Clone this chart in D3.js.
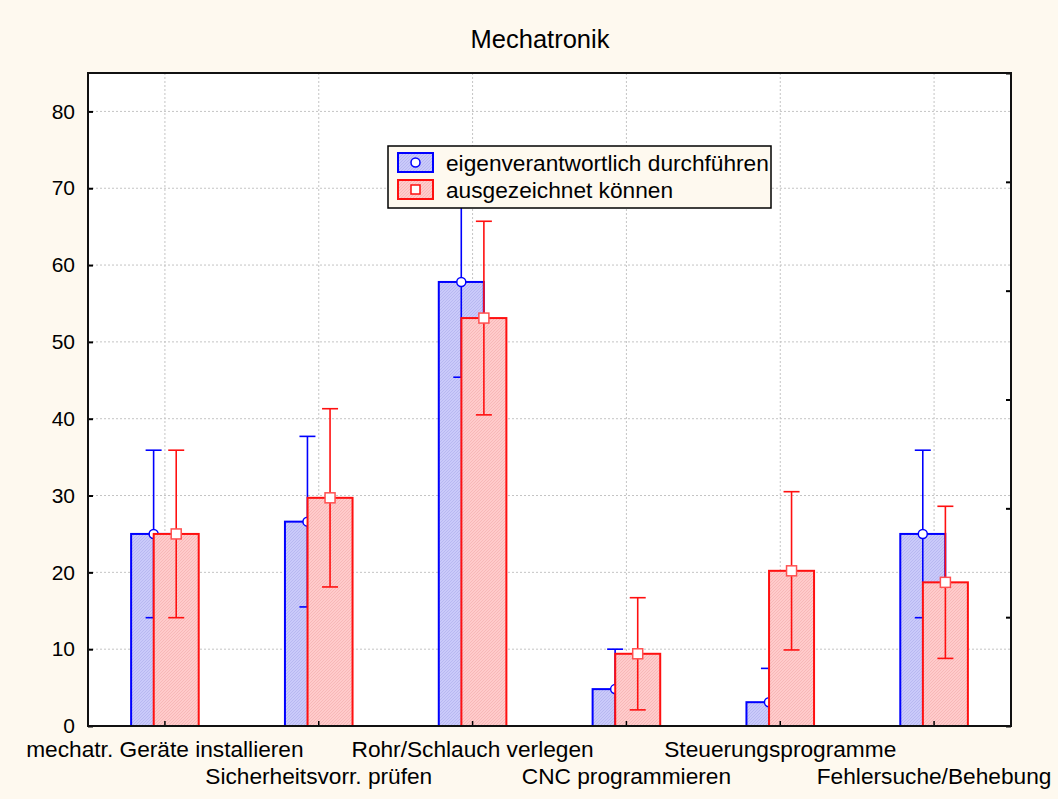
<!DOCTYPE html>
<html>
<head>
<meta charset="utf-8">
<script src="https://cdn.jsdelivr.net/npm/d3@7"></script>
<style>
  body { margin: 0; background: #fef9ef; }
  svg { display: block; font-family: "Liberation Sans", Arial, sans-serif; }
</style>
</head>
<body>
<div class="visHolder"></div>
<script>
const categories = [
  "mechatr. Geräte installieren",
  "Sicherheitsvorr. prüfen",
  "Rohr/Schlauch verlegen",
  "CNC programmieren",
  "Steuerungsprogramme",
  "Fehlersuche/Behebung",
];

const seriesNames = ["eigenverantwortlich durchführen", "ausgezeichnet können"];

// mittelwerte und fehler (symmetrisch)
const meanEigen = [25.0, 26.6, 57.8, 4.8, 3.1, 25.0];
const errEigen = [10.9, 11.1, 12.4, 5.2, 4.4, 10.9];
const meanAus = [25.0, 29.7, 53.1, 9.4, 20.2, 18.7];
const errAus = [10.9, 11.6, 12.6, 7.3, 10.3, 9.9];

const yTicks = [0, 10, 20, 30, 40, 50, 60, 70, 80];

const width = 1058;
const height = 799;
const margin = { top: 73, right: 47, bottom: 73, left: 88 };

const x = d3
  .scaleBand()
  .domain(categories)
  .range([margin.left, width - margin.right]);

const y = d3
  .scaleLinear()
  .domain([0, 85])
  .range([height - margin.bottom, margin.top]);

// rechte achse hat eigene teilung ohne beschriftung
const yRight = d3
  .scaleLinear()
  .domain([0, 6])
  .range([height - margin.bottom, margin.top]);

const barW = 45;
const shift = 11.3;

const series = [
  { name: seriesNames[0], mean: meanEigen, err: errEigen, dx: -shift, stroke: "#0000ff", base: "#cacafa", line: "#b0b0ee", marker: "circle" },
  { name: seriesNames[1], mean: meanAus, err: errAus, dx: shift, stroke: "#ff1010", base: "#ffcbcb", line: "#f3b0b0", marker: "square" },
];

const svg = d3
  .select(".visHolder")
  .append("svg")
  .attr("width", width)
  .attr("height", height);

const defs = svg.append("defs");
series.forEach((s, i) => {
  const p = defs
    .append("pattern")
    .attr("id", "hatch" + i)
    .attr("patternUnits", "userSpaceOnUse")
    .attr("width", 3)
    .attr("height", 3);
  p.append("rect").attr("width", 3).attr("height", 3).attr("fill", s.base);
  p.append("path").attr("d", "M0,3 L3,0").attr("stroke", s.line).attr("stroke-width", 0.7);
});

defs
  .append("clipPath")
  .attr("id", "plotclip")
  .append("rect")
  .attr("x", margin.left)
  .attr("y", margin.top)
  .attr("width", width - margin.left - margin.right)
  .attr("height", height - margin.top - margin.bottom + 1);

const x0 = margin.left;
const x1 = width - margin.right;
const y0 = height - margin.bottom;
const y1 = margin.top;

// plotfläche
svg
  .append("rect")
  .attr("x", x0)
  .attr("y", y1)
  .attr("width", x1 - x0)
  .attr("height", y0 - y1)
  .attr("fill", "#ffffff");

// gitter
svg
  .append("g")
  .selectAll("line")
  .data(yTicks.filter((t) => t > 0))
  .enter()
  .append("line")
  .attr("x1", x0)
  .attr("x2", x1)
  .attr("y1", (d) => y(d))
  .attr("y2", (d) => y(d))
  .attr("stroke", "#c4c4c4")
  .attr("stroke-dasharray", "2,2");

svg
  .append("g")
  .selectAll("line")
  .data(categories)
  .enter()
  .append("line")
  .attr("x1", (d) => x(d) + x.bandwidth() / 2)
  .attr("x2", (d) => x(d) + x.bandwidth() / 2)
  .attr("y1", y1)
  .attr("y2", y0)
  .attr("stroke", "#c4c4c4")
  .attr("stroke-dasharray", "2,2");

// balken, fehlerbalken, marker je serie
const plot = svg.append("g").attr("clip-path", "url(#plotclip)");

series.forEach((s, si) => {
  const g = plot.append("g");
  const cx = (i) => x(categories[i]) + x.bandwidth() / 2 + s.dx;
  const idx = d3.range(categories.length);

  g.selectAll("rect")
    .data(idx)
    .enter()
    .append("rect")
    .attr("x", (i) => cx(i) - barW / 2)
    .attr("y", (i) => y(s.mean[i]))
    .attr("width", barW)
    .attr("height", (i) => y(0) - y(s.mean[i]))
    .attr("fill", `url(#hatch${si})`)
    .attr("stroke", s.stroke)
    .attr("stroke-width", 2);

  g.selectAll(".err")
    .data(idx)
    .enter()
    .append("line")
    .attr("class", "err")
    .attr("x1", cx)
    .attr("x2", cx)
    .attr("y1", (i) => y(s.mean[i] + s.err[i]))
    .attr("y2", (i) => y(s.mean[i] - s.err[i]))
    .attr("stroke", s.stroke)
    .attr("stroke-width", 1.6);

  [1, -1].forEach((sign) => {
    g.selectAll(".cap" + sign)
      .data(idx)
      .enter()
      .append("line")
      .attr("x1", (i) => cx(i) - 8)
      .attr("x2", (i) => cx(i) + 8)
      .attr("y1", (i) => y(s.mean[i] + sign * s.err[i]))
      .attr("y2", (i) => y(s.mean[i] + sign * s.err[i]))
      .attr("stroke", s.stroke)
      .attr("stroke-width", 1.6);
  });

  if (s.marker === "circle") {
    g.selectAll("circle")
      .data(idx)
      .enter()
      .append("circle")
      .attr("cx", cx)
      .attr("cy", (i) => y(s.mean[i]))
      .attr("r", 4.5)
      .attr("fill", "#ffffff")
      .attr("stroke", s.stroke)
      .attr("stroke-width", 1.5);
  } else {
    g.selectAll(".mk")
      .data(idx)
      .enter()
      .append("rect")
      .attr("class", "mk")
      .attr("x", (i) => cx(i) - 5)
      .attr("y", (i) => y(s.mean[i]) - 5)
      .attr("width", 10)
      .attr("height", 10)
      .attr("fill", "#ffffff")
      .attr("stroke", "#ff5050")
      .attr("stroke-width", 1.5);
  }
});

// achsen (ticks nach innen)
const yAxis = d3.axisLeft(y).tickValues(yTicks).tickSize(-5).tickPadding(13);
svg
  .append("g")
  .attr("id", "y-axis")
  .attr("transform", `translate(${x0}, 0)`)
  .call(yAxis)
  .call((g) => g.select(".domain").remove())
  .call((g) => g.selectAll("text").attr("font-size", 21).attr("font-family", "Liberation Sans, Arial").attr("fill", "#000"))
  .call((g) => g.selectAll("line").attr("stroke-width", 2));

svg
  .append("g")
  .attr("transform", `translate(${x1}, 0)`)
  .call(d3.axisRight(yRight).ticks(6).tickSize(-5).tickFormat(""))
  .call((g) => g.select(".domain").remove())
  .call((g) => g.selectAll("line").attr("stroke-width", 2));

svg
  .append("g")
  .attr("id", "x-axis")
  .attr("transform", `translate(0, ${y0})`)
  .call(d3.axisBottom(x).tickSize(-5).tickFormat(""))
  .call((g) => g.select(".domain").remove())
  .call((g) => g.selectAll("line").attr("stroke-width", 1.5));

// kategorie-beschriftung, versetzt in zwei zeilen
svg
  .append("g")
  .selectAll("text")
  .data(categories)
  .enter()
  .append("text")
  .attr("x", (d) => x(d) + x.bandwidth() / 2)
  .attr("y", (d, i) => (i % 2 === 0 ? 757 : 784))
  .attr("text-anchor", "middle")
  .attr("font-size", 22.7)
  .text((d) => d);

// rahmen
svg
  .append("rect")
  .attr("x", x0)
  .attr("y", y1)
  .attr("width", x1 - x0)
  .attr("height", y0 - y1)
  .attr("fill", "none")
  .attr("stroke", "#111")
  .attr("stroke-width", 2);

// titel
svg
  .append("text")
  .attr("x", 540)
  .attr("y", 48)
  .attr("text-anchor", "middle")
  .attr("font-size", 25.5)
  .text("Mechatronik");

// legende
const legend = svg.append("g").attr("transform", "translate(388, 146)");
legend
  .append("rect")
  .attr("width", 383)
  .attr("height", 62)
  .attr("fill", "#fef9ef")
  .attr("stroke", "#000")
  .attr("stroke-width", 1.5);

series.forEach((s, i) => {
  const row = legend.append("g").attr("transform", `translate(10, ${7 + i * 27})`);
  row
    .append("rect")
    .attr("width", 35)
    .attr("height", 19)
    .attr("fill", `url(#hatch${i})`)
    .attr("stroke", s.stroke)
    .attr("stroke-width", 2);
  if (s.marker === "circle") {
    row.append("circle").attr("cx", 17.5).attr("cy", 9.5).attr("r", 4.5).attr("fill", "#fff").attr("stroke", s.stroke).attr("stroke-width", 1.5);
  } else {
    row.append("rect").attr("x", 13).attr("y", 5).attr("width", 9).attr("height", 9).attr("fill", "#fff").attr("stroke", s.stroke).attr("stroke-width", 1.5);
  }
  row
    .append("text")
    .attr("x", 48)
    .attr("y", 18)
    .attr("font-size", 22.7)
    .text(s.name);
});
</script>
</body>
</html>
